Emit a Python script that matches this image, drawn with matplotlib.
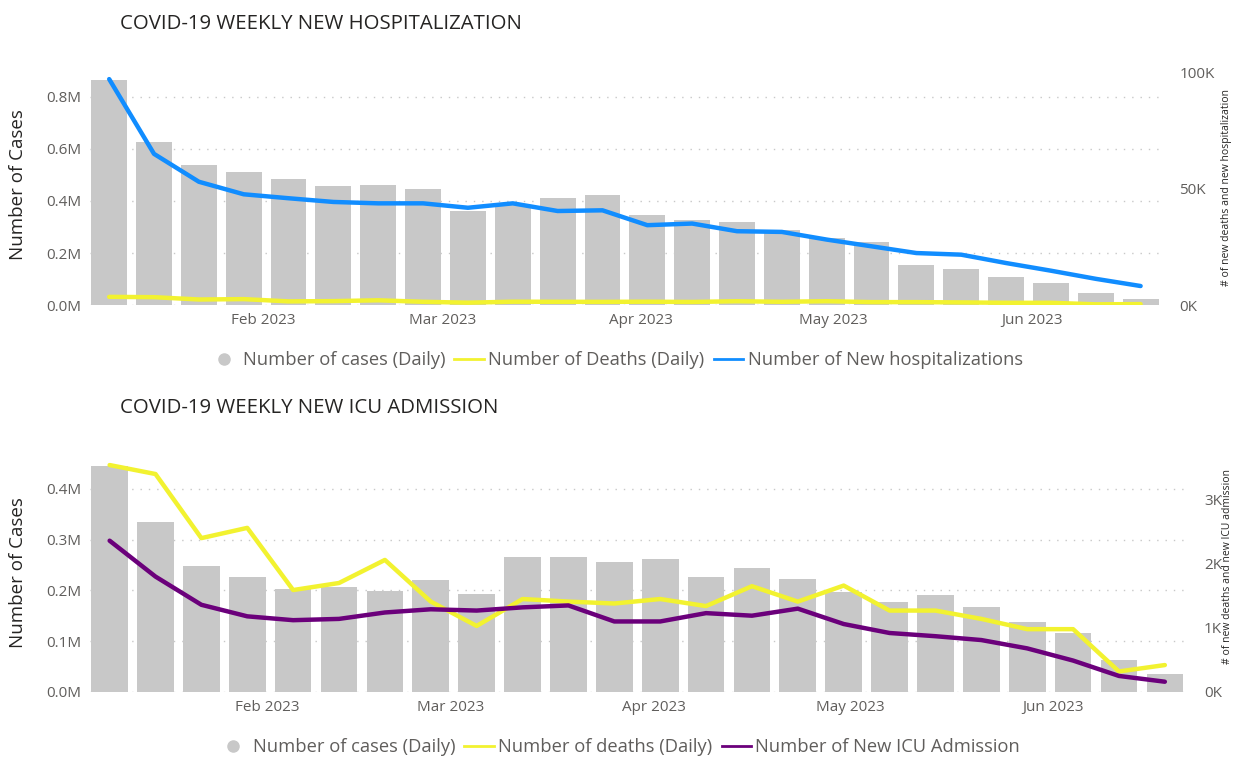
import numpy as np
import pandas as pd
import matplotlib
matplotlib.use("Agg")
import matplotlib.pyplot as plt
import matplotlib.dates as mdates
from matplotlib.lines import Line2D
from matplotlib.ticker import FuncFormatter

plt.rcParams['font.family'] = ['Open Sans', 'DejaVu Sans']

weeks = pd.date_range('2023-01-08', '2023-06-18', freq='7D')

# top chart
cases_hosp = [0.865, 0.628, 0.539, 0.511, 0.484, 0.458, 0.463, 0.445, 0.361, 0.385,
              0.413, 0.423, 0.345, 0.325, 0.321, 0.288, 0.258, 0.241, 0.154, 0.137,
              0.107, 0.086, 0.045, 0.023]  # millions
new_hosp = [97.3, 65.1, 53.1, 47.7, 46.0, 44.4, 43.8, 43.8, 41.9, 43.8, 40.5, 40.8,
            34.4, 35.1, 31.8, 31.5, 28.2, 25.3, 22.4, 21.7, 18.1, 14.8, 11.3, 8.2]  # thousands

# bottom chart
cases_icu = [0.444, 0.335, 0.248, 0.226, 0.203, 0.207, 0.198, 0.221, 0.193, 0.266,
             0.266, 0.255, 0.261, 0.227, 0.244, 0.222, 0.197, 0.178, 0.190, 0.168,
             0.137, 0.116, 0.063, 0.035]  # millions
deaths = [3.54, 3.40, 2.40, 2.56, 1.59, 1.70, 2.06, 1.41, 1.03, 1.45, 1.41, 1.38,
          1.45, 1.34, 1.65, 1.41, 1.66, 1.27, 1.27, 1.14, 0.98, 0.98, 0.32, 0.42]  # thousands
new_icu = [2.36, 1.80, 1.36, 1.18, 1.12, 1.14, 1.24, 1.29, 1.27, 1.32, 1.35, 1.10,
           1.10, 1.23, 1.19, 1.30, 1.06, 0.92, 0.87, 0.81, 0.68, 0.49, 0.25, 0.16]  # thousands

BAR = '#c8c8c8'
BLUE = '#118dff'
YELLOW = '#f2f230'
PURPLE = '#6b007b'
TXT = '#605e5c'
DARK = '#252423'

W, H = 1234, 757
fig = plt.figure(figsize=(12.34, 7.57), dpi=100)


def style(ax, ax2, ymax, yticks, y2max, y2ticks):
    ax.set_xlim(pd.Timestamp('2023-01-05'), pd.Timestamp('2023-06-21'))
    ax.set_ylim(0, ymax)
    ax.set_yticks(yticks)
    ax.yaxis.set_major_formatter(FuncFormatter(lambda v, p: '%.1fM' % v))
    ax.grid(axis='y', linestyle=(0, (1, 5)), color='#c8c8c8', linewidth=1)
    ax.set_axisbelow(True)
    for s in ax.spines.values():
        s.set_visible(False)
    for s in ax2.spines.values():
        s.set_visible(False)
    ax.xaxis.set_major_locator(mdates.MonthLocator(bymonth=[2, 3, 4, 5, 6]))
    ax.xaxis.set_major_formatter(mdates.DateFormatter('%b %Y'))
    ax.tick_params(axis='both', length=0, labelsize=11, labelcolor=TXT, pad=6)
    ax2.set_ylim(0, y2max)
    ax2.set_yticks(y2ticks)
    ax2.yaxis.set_major_formatter(FuncFormatter(lambda v, p: '%dK' % v))
    ax2.tick_params(axis='y', length=0, labelsize=11, labelcolor=TXT, pad=14)
    ax2.set_zorder(ax.get_zorder() + 1)
    ax2.patch.set_visible(False)


# ---- top
ax = fig.add_axes([0.0729, 0.597, 0.867, 0.316])
ax2 = ax.twinx()
ax.bar(weeks, cases_hosp, width=5.6, color=BAR)
ax2.plot(weeks, deaths, color=YELLOW, lw=3.2, solid_capstyle='round')
ax2.plot(weeks, new_hosp, color=BLUE, lw=3.2, solid_capstyle='round')
style(ax, ax2, 0.919, [0, 0.2, 0.4, 0.6, 0.8], 103, [0, 50, 100])
fig.text(18 / W, 1 - 185 / H, 'Number of Cases', rotation=90, fontsize=13.5,
         color=DARK, ha='center', va='center')
fig.text(1227 / W, 1 - 187 / H, '# of new deaths and new hospitalization',
         rotation=90, fontsize=7.5, color=DARK, ha='center', va='center')
fig.text(0.097, 0.968, 'COVID-19 WEEKLY NEW HOSPITALIZATION', fontsize=14.7,
         color=DARK, va='center')
h1 = [Line2D([], [], marker='o', ls='', color=BAR, markersize=8),
      Line2D([], [], color=YELLOW, lw=2),
      Line2D([], [], color=BLUE, lw=2)]
fig.legend(h1, ['Number of cases (Daily)', 'Number of Deaths (Daily)',
                'Number of New hospitalizations'],
           loc='center', bbox_to_anchor=(0.499, 0.524), ncol=3, frameon=False,
           fontsize=13.2, labelcolor=TXT, handlelength=1.6, handletextpad=0.25,
           columnspacing=0.5)

# ---- bottom
bx = fig.add_axes([0.0729, 0.0859, 0.887, 0.304])
bx2 = bx.twinx()
bx.bar(weeks, cases_icu, width=5.6, color=BAR)
bx2.plot(weeks, deaths, color=YELLOW, lw=3.2, solid_capstyle='round')
bx2.plot(weeks, new_icu, color=PURPLE, lw=3.2, solid_capstyle='round')
style(bx, bx2, 0.453, [0, 0.1, 0.2, 0.3, 0.4], 3.59, [0, 1, 2, 3])
fig.text(18 / W, 1 - 573 / H, 'Number of Cases', rotation=90, fontsize=13.5,
         color=DARK, ha='center', va='center')
fig.text(1228 / W, 1 - 567 / H, '# of new deaths and new ICU admission',
         rotation=90, fontsize=7.5, color=DARK, ha='center', va='center')
fig.text(0.097, 0.461, 'COVID-19 WEEKLY NEW ICU ADMISSION', fontsize=14.7,
         color=DARK, va='center')
h2 = [Line2D([], [], marker='o', ls='', color=BAR, markersize=8),
      Line2D([], [], color=YELLOW, lw=2),
      Line2D([], [], color=PURPLE, lw=2)]
fig.legend(h2, ['Number of cases (Daily)', 'Number of deaths (Daily)',
                'Number of New ICU Admission'],
           loc='center', bbox_to_anchor=(0.502, 0.013), ncol=3, frameon=False,
           fontsize=13.2, labelcolor=TXT, handlelength=1.6, handletextpad=0.25,
           columnspacing=0.5)

fig.savefig('out.png', dpi=100)
